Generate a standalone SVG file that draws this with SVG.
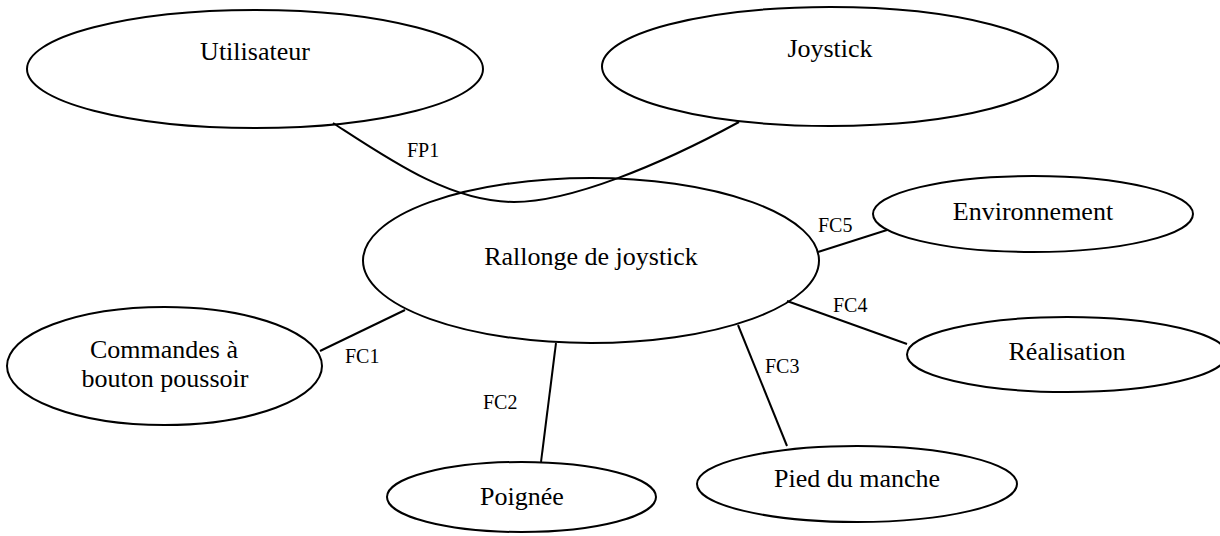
<svg xmlns="http://www.w3.org/2000/svg" width="1220" height="536" viewBox="0 0 1220 536">
<style>
.n{fill:#fff;stroke:#000;stroke-width:2}
.t{font-size:26px;fill:#000;text-anchor:middle}
.l{font-size:20px;fill:#000}
.c{fill:none;stroke:#000;stroke-width:2}
</style>
<rect width="1220" height="536" fill="#fff"/>
<g font-family="'Liberation Serif', 'DejaVu Serif', serif">
<g id="n-utilisateur"><ellipse class="n" cx="255" cy="69" rx="228" ry="59"/><text class="t" x="255" y="60">Utilisateur</text></g>
<g id="n-joystick"><ellipse class="n" cx="830" cy="66.5" rx="228" ry="59.5"/><text class="t" x="830" y="57">Joystick</text></g>
<g id="n-rallonge"><ellipse class="n" cx="591" cy="260.5" rx="228" ry="82.5"/><text class="t" x="591" y="265">Rallonge de joystick</text></g>
<g id="n-environnement"><ellipse class="n" cx="1033" cy="214" rx="160" ry="38"/><text class="t" x="1033" y="220">Environnement</text></g>
<g id="n-realisation"><ellipse class="n" cx="1067" cy="354.5" rx="160" ry="37.5"/><text class="t" x="1067" y="360">Réalisation</text></g>
<g id="n-commandes"><ellipse class="n" cx="164.5" cy="366" rx="157.5" ry="59"/><text class="t" x="164" y="358">Commandes à</text><text class="t" x="165" y="387">bouton poussoir</text></g>
<g id="n-poignee"><ellipse class="n" cx="521.5" cy="497" rx="134.5" ry="35"/><text class="t" x="522" y="505">Poignée</text></g>
<g id="n-pied"><ellipse class="n" cx="857" cy="484" rx="160" ry="38"/><text class="t" x="857" y="487">Pied du manche</text></g>
<g id="connectors">
<path class="c" d="M333,123 C390,160 450,202 514,202 C570,202 660,165 739,122"/>
<line class="c" x1="818" y1="252" x2="887" y2="230"/>
<line class="c" x1="787" y1="301" x2="907" y2="344"/>
<line class="c" x1="320" y1="351" x2="405" y2="310"/>
<line class="c" x1="556" y1="343" x2="541" y2="462"/>
<line class="c" x1="738" y1="325" x2="787" y2="446"/>
<text class="l" x="407" y="157">FP1</text>
<text class="l" x="818" y="232">FC5</text>
<text class="l" x="833" y="312">FC4</text>
<text class="l" x="345" y="363">FC1</text>
<text class="l" x="483" y="409">FC2</text>
<text class="l" x="765" y="373">FC3</text>
</g>
</g>
</svg>
